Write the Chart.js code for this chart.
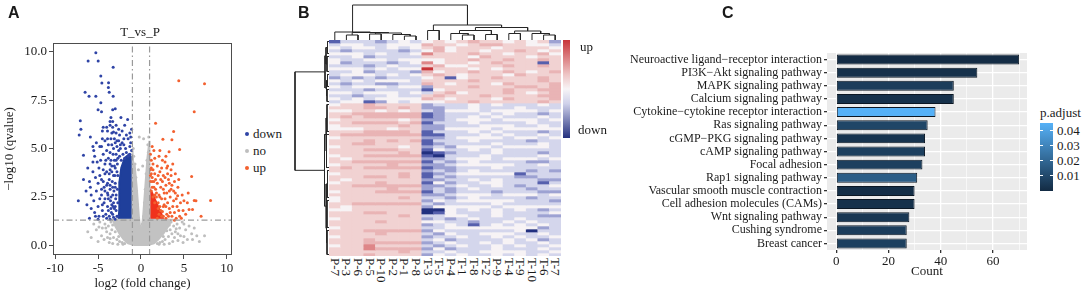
<!DOCTYPE html>
<html>
<head>
<meta charset="utf-8">
<script src="https://cdn.jsdelivr.net/npm/chart.js@4.4.0/dist/chart.umd.min.js"></script>
<style>
body { margin: 0; background: #fff; }
#wrap { position: relative; width: 1084px; height: 293px; overflow: hidden;
        font-family: 'Liberation Serif', 'Times New Roman', serif; color: #1a1a1a; }
#wrap canvas { position: absolute; }
.t { position: absolute; white-space: nowrap; line-height: 1; }
.panel { font-family: 'Liberation Sans', Arial, sans-serif; font-weight: bold; font-size: 16px; }
.dot { position: absolute; width: 4px; height: 4px; border-radius: 50%; }
.collab { position: absolute; writing-mode: vertical-rl; font-size: 13px; line-height: 12px; white-space: nowrap; }
</style>
</head>
<body>
<div id="wrap">
  <canvas id="volcano" width="240" height="293" style="left:0;top:0"></canvas>
  <canvas id="coltree" width="232" height="40" style="left:329px;top:0"></canvas>
  <canvas id="rowtree" width="39" height="216" style="left:290px;top:40px"></canvas>
  <canvas id="heat" width="232" height="216" style="left:329px;top:40px"></canvas>
  <canvas id="bars" width="432" height="240" style="left:600px;top:40px"></canvas>

  <div class="t panel" style="left:8px;top:5px">A</div>
  <div class="t panel" style="left:298px;top:5px">B</div>
  <div class="t panel" style="left:722px;top:5px">C</div>

  <div class="t" style="left:90px;width:100px;text-align:center;top:25px;font-size:13px">T_vs_P</div>
  <div id="volLegend"></div>

  <div style="position:absolute;left:563px;top:40px;width:7px;height:98px;background:linear-gradient(to bottom,#c8353a 0%,#eec4c4 35%,#f7f4f6 50%,#cfd1ea 65%,#24307e 100%)"></div>
  <div class="t" style="left:580px;top:40px;font-size:13px">up</div>
  <div class="t" style="left:578px;top:123px;font-size:13px">down</div>
  <div id="colLabels"></div>

  <div class="t" style="left:1040px;top:106px;font-size:13px">p.adjust</div>
  <div id="padjBar" style="position:absolute;left:1040px;top:123px;width:13px;height:68px;background:linear-gradient(to bottom,#56b1f7,#132b43)"></div>
  <div id="padjLabels"></div>
</div>

<script>
// ---------- panel A : volcano (x = log2 fold change, y = -log10 qvalue) ----------
var downPts = [
 -5.26,9.95, -6.16,9.52, -4.99,9.52, -3.24,9.2, -4.68,8.74, -4.56,8.39, -3.78,8.4, -3.8,8.15, -3.7,7.9,
 -6.51,7.91, -6.05,7.7, -5.26,7.7, -3.24,7.7, -4.68,7.36, -5.0,7.0, -4.6,6.9, -3.3,7.0, -3.0,7.05,
 -3.5,6.6, -3.6,6.4, -3.3,6.4, -2.34,6.6, -1.56,6.5, -7.07,6.44, -7.0,6.0, -7.2,5.7, -5.9,5.6,
 -6.7,4.65, -5.6,5.1, -5.5,4.9, -4.8,5.1, -4.6,5.1, -4.4,6.1, -4.0,6.1, -3.6,6.2, -3.3,6.1,
 -4.5,5.9, -3.9,5.9, -3.2,5.85, -2.9,5.8, -4.5,5.5, -3.9,5.5, -3.5,5.5, -6.0,3.3, -5.9,3.0,
 -5.4,4.6, -5.1,4.3, -4.9,4.0, -4.7,4.4, -4.4,4.7, -4.2,4.2, -4.0,4.9, -3.8,4.5, -3.6,4.8, -3.4,5.2,
 -3.2,5.0, -3.0,5.3, -2.8,5.1, -2.6,5.4, -2.4,5.0, -2.2,5.3, -2.0,5.2, -1.8,5.0, -1.5,5.5, -1.3,5.1,
 -5.6,3.8, -5.3,3.5, -5.0,3.2, -4.8,3.6, -4.6,2.9, -4.4,3.3, -4.2,3.7, -4.0,3.1, -3.9,2.7, -3.7,3.4,
 -3.6,3.9, -3.5,2.5, -3.4,4.1, -3.3,3.0, -3.2,2.2, -5.8,2.6, -5.5,2.3, -5.2,2.8, -5.0,2.0, -4.8,2.4,
 -4.5,1.8, -4.3,2.2, -4.1,1.6, -3.9,2.0, -3.7,1.5, -3.5,1.9, -3.3,1.6, -6.3,2.1, -5.4,1.7, -4.9,1.5,
 -4.6,2.6, -4.2,2.8, -3.8,2.4, -3.6,2.9, -3.4,2.1, -3.2,3.6, -3.1,4.4, -2.9,4.7, -2.7,4.5, -2.5,4.6,
 -2.3,4.4, -2.1,4.7, -1.9,4.5, -1.7,4.8, -1.5,4.6, -1.3,4.7, -1.1,4.9, -1.2,5.3, -2.6,6.0, -3.0,4.0,
 -2.8,3.8, -3.0,3.2, -2.9,2.6, -3.1,1.9, -2.8,1.5, -3.6,1.35, -4.0,1.4, -5.0,1.35, -6.7,3.4, -7.3,2.3,
 -2.7,1.5, -2.7,2.2, -2.75,2.9, -2.7,3.6, -2.75,4.2, -2.9,1.8, -2.95,2.4, -3.0,3.0, -3.05,3.6, -3.1,4.1,
 -3.2,1.45, -3.25,2.0, -3.3,2.6, -3.35,3.3, -3.4,3.8, -3.5,4.4, -3.45,1.7, -3.55,2.3, -3.6,3.1, -3.7,3.7,
 -3.8,1.8, -3.85,2.6, -3.9,3.2, -4.0,3.8, -4.1,4.4, -4.2,2.4, -4.3,3.0, -4.4,3.9, -4.5,2.1, -4.6,3.4,
 -2.6,4.9, -2.4,5.2, -2.0,5.5, -1.7,5.7, -2.8,5.4, -3.1,5.5, -1.3,5.8, -1.1,6.0, -2.2,5.9, -1.9,6.2,
 -1.2,5.6, -2.5,5.7, -2.9,6.2, -3.4,5.8, -3.8,5.2, -4.2,5.4, -5.2,5.3, -5.6,4.3, -6.2,4.0, -6.4,2.8,
 -5.8,1.9, -5.3,1.5, -6.0,1.4, -4.4,1.5, -3.0,1.35, -2.9,4.4, -3.25,4.7, -3.6,4.2, -3.0,2.0, -3.15,2.8
];
var upPts = [
 4.4,8.5, 7.4,8.35, 6.2,6.9, 1.7,6.3, 3.8,5.88, 2.55,5.48, 3.6,5.45, 4.5,4.95, 3.27,4.83, 2.1,4.6,
 1.5,4.9, 5.9,3.55, 8.1,2.32, 6.2,2.32, 6.4,2.3, 5.6,1.85, 6.0,1.85, 7.0,1.5, 4.27,2.56, 2.8,4.3,
 3.0,4.0, 3.5,3.9, 2.4,4.0, 1.9,4.1, 1.4,4.2, 1.2,4.4, 2.6,3.6, 3.2,3.4, 3.9,3.3, 4.3,3.0,
 2.0,3.6, 1.6,3.7, 1.3,3.5, 2.9,3.1, 3.5,2.9, 4.0,2.7, 4.6,2.2, 4.9,1.8, 4.5,1.5, 4.2,2.0,
 3.8,2.3, 3.4,2.5, 3.1,2.2, 2.7,2.7, 2.3,3.0, 1.9,3.2, 3.9,1.7, 3.6,1.5, 3.3,1.9, 3.0,1.6,
 2.6,2.0, 2.4,2.4, 2.2,2.0, 2.9,1.4, 3.7,2.0, 4.1,1.4, 5.2,1.6, 5.4,2.2, 4.8,2.6, 4.4,3.4,
 1.1,3.9, 1.3,3.0, 1.5,3.3, 1.7,2.9, 1.8,2.5, 2.1,2.6, 2.5,3.3, 3.1,3.7, 2.2,3.8, 1.2,2.8,
 1.4,2.5, 1.6,2.2, 2.0,2.2, 2.3,1.8, 2.6,1.5, 1.1,3.3, 1.2,3.7, 3.3,2.8, 2.8,2.4, 3.6,3.1,
 1.9,1.4, 2.1,1.6, 2.4,1.5, 2.0,1.9, 2.5,1.75, 2.7,2.1, 2.2,2.5, 2.9,2.0, 3.2,1.5, 3.4,1.7,
 3.0,2.7, 2.6,2.9, 1.8,2.7, 1.6,2.6, 1.5,3.0, 1.3,3.3, 1.1,3.6, 1.2,4.0, 1.4,3.9, 1.7,3.4,
 2.3,3.4, 2.8,3.5, 3.3,3.2, 3.8,2.8, 4.1,2.4, 4.4,1.8, 4.7,1.4, 3.5,3.6, 3.1,4.1, 2.5,4.4,
 1.6,4.5, 1.1,4.7, 1.3,5.1, 2.2,4.9, 4.0,3.7, 3.7,4.2, 2.9,4.6, 5.0,2.3, 5.5,2.7, 3.9,1.3
];
var noPts = [
 -4.8,1.2, -4.5,0.9, -4.2,1.1, -4.0,0.7, -3.8,1.0, -3.6,0.6, -3.4,0.8, -3.9,0.4, -3.2,0.4, -3.0,0.7,
 -2.8,0.3, -2.5,0.2, -2.2,0.15, -1.9,0.1, -4.6,0.5, -5.2,0.8, -5.5,1.1, -3.5,1.2, -2.9,1.15, -2.1,0.05,
 4.8,1.2, 4.5,0.9, 4.2,1.1, 4.0,0.7, 3.8,1.0, 3.6,0.6, 3.4,0.8, 3.9,0.4, 3.2,0.45, 3.0,0.75,
 2.8,0.3, 2.5,0.2, 2.2,0.15, 1.9,0.1, 4.6,0.5, 5.2,0.8, 5.6,1.0, 5.9,0.6, 6.2,0.9, 5.4,0.3,
 3.5,1.2, 2.9,1.2, 2.1,0.05, 4.3,0.25, 5.0,0.45, 6.5,0.5, 7.4,0.5, 6.8,0.2, -5.8,0.4, -6.2,0.7,
 -0.9,5.0, -0.85,4.6, -0.7,4.2, -0.9,3.8, -0.6,3.5, -0.8,3.1, -0.5,2.8, -0.7,2.5, -0.4,2.1, -0.6,1.8,
 0.9,5.6, 0.8,5.2, 0.85,4.8, 0.7,4.4, 0.9,4.0, 0.6,3.7, 0.8,3.3, 0.5,2.9, 0.7,2.6, 0.4,2.2,
 0.3,5.5, -0.2,5.6, 0.2,4.1, -0.3,3.9, 0.5,1.8, 0.3,1.5, -0.3,1.4, 0.15,1.1, -0.15,1.0,
 -4.3,0.3, -3.7,0.15, -3.3,0.1, -2.7,0.05, -5.0,0.2, -4.9,0.95, -4.1,0.9, -3.3,1.05, -2.6,0.45, -3.6,0.35,
 4.3,0.6, 3.7,0.2, 3.3,0.1, 2.7,0.05, 5.0,1.1, 4.9,0.15, 4.1,0.85, 3.3,1.05, 2.6,0.45, 6.0,0.3
];
// outlines of the areas where the points are packed solid
var downCore = [-1.02,1.32, -1.02,4.5, -1.4,4.7, -1.9,4.5, -2.3,4.0, -2.5,3.3, -2.55,2.5, -2.5,1.9, -2.6,1.32];
var upCore = [1.02,1.32, 1.02,2.9, 1.3,2.7, 1.6,2.4, 2.0,2.0, 2.4,1.6, 2.6,1.32];
var noCore = [-0.98,4.9, -0.98,1.32, -3.3,1.32, -3.0,1.0, -2.5,0.6, -2.0,0.3, -1.5,0.1, -0.8,0.02,
              0.8,0.02, 1.5,0.1, 2.0,0.3, 2.6,0.6, 3.2,1.0, 3.6,1.32, 0.98,1.32, 0.98,5.4,
              0.75,4.5, 0.5,3.0, 0.25,1.5, 0.08,0.8, -0.08,0.8, -0.25,1.5, -0.5,3.0, -0.75,4.2];
var fcCut = [-1, 1];
var qCut = 1.3;
var volGroups = ['down', 'no', 'up'];

// ---------- panel B : heatmap ----------
var sampleNames = ['P-7','P-3','P-6','P-5','P-10','P-2','P-1','P-8','T-3','T-5',
                   'P-4','T-1','T-8','T-2','P-9','T-4','T-9','T-10','T-6','T-7'];
// one string per gene row, one digit per sample: 0 = deep blue (down), 4 = white, 8 = deep red (up)
var heatRows = [
 "13332343454565545452","34433444655456655443","43443434564555455554","32333323464554556545",
 "44434334755565545564","33423333555546555455","43344344445565565565","42333234745545655515",
 "33323433564455565565","44434344855545455555","33423332645565565456","34443434565455546555",
 "23232333451455655565","43434443555565555565","32332233654555465556","43444344255565556656",
 "33323333145555565566","44344434356455565456","33233433565556555566","43434444654555465556",
 "34412434445565555565",
 "45565555233343433343","55566565223343334333","44554545324443444434","55666666123334343323",
 "56566666123343433343","45555545223444344434","55666656133343333433","45555565223334443343",
 "44455455224444344444","55566665133343433323","56666666113334343343","45555555223444434434",
 "55565656133343333233","55665555123333433343","45555545232444344443","55566655143343433333",
 "55555565012333433323","45566666103334333343","54555555223444344434","55666666132343333223",
 "45555655223444443343","56566666122333433333","55555555232343333232","45555565123444441333",
 "55566565132333332233","54555555223343433322","45556555142334433313","55666666223433432334",
 "55555655232343333233","45556666132333233322","55555555223444344434","45555565332343333233",
 "45555555243444443332","55666666323333433333","54555555244444344444","44555555004343434323",
 "55566555014333433334","55555565334433433322","45555555232343334333","55556555443323343433",
 "55555555234313434343","45555555334444444423","55566666243333334033","55556555324334443343",
 "45555555233433434334","55565555342333343423","55566666234334343343","45575555323433434334",
 "55576666242333433343","55555565334334444334","55565555243433434343"
];
// column tree, hclust style: negative = sample (1-based), positive = earlier merge; last = height
var colMerges = [
 [-2,-3,5], [-4,-5,6], [-7,-8,4], [-6,3,5.5], [2,4,7], [1,5,7.5], [-1,6,8],
 [-9,-10,9.5], [-12,-13,5], [-11,9,6.5], [-14,-15,5.5], [10,11,9.5], [-16,-17,6.5],
 [-19,-20,5], [-18,14,6.5], [13,15,9], [12,16,12.5], [8,17,15], [7,18,35]
];
// row tree: blocks of gene rows [first, last, height], then merges of blocks
var rowGroups = [[0,4,1.5],[5,10,2],[11,15,1.5],[16,20,2],[21,30,2],[31,42,2.5],[43,52,1.5],[53,62,2],[63,71,2]];
var rowMerges = [[-1,-2,3], [-3,-4,2.5], [1,2,4], [-8,-9,2.5], [-7,4,3], [-5,-6,3], [6,5,4.5], [3,7,34]];

// ---------- panel C : KEGG enrichment ----------
var pathways = ['Neuroactive ligand\u2212receptor interaction','PI3K\u2212Akt signaling pathway','MAPK signaling pathway',
  'Calcium signaling pathway','Cytokine\u2212cytokine receptor interaction','Ras signaling pathway',
  'cGMP\u2212PKG signaling pathway','cAMP signaling pathway','Focal adhesion','Rap1 signaling pathway',
  'Vascular smooth muscle contraction','Cell adhesion molecules (CAMs)','Wnt signaling pathway',
  'Cushing syndrome','Breast cancer'];
var pathCount = [70, 54, 45, 45, 38, 35, 34, 34, 33, 31, 30, 30, 28, 27, 27];
var pathPadj = [0.0005, 0.002, 0.006, 0.002, 0.0447, 0.009, 0.003, 0.007, 0.007, 0.017, 0.001, 0.002, 0.004, 0.006, 0.007];
var padjTicks = [0.04, 0.03, 0.02, 0.01];
var padjRange = [0, 0.0447];

// ---------- helpers ----------
Chart.defaults.font.family = "'Liberation Serif', 'Times New Roman', serif";
Chart.defaults.color = '#1a1a1a';
Chart.defaults.animation = false;
Chart.defaults.responsive = false;
Chart.defaults.plugins.legend.display = false;
Chart.defaults.plugins.tooltip.enabled = false;

function pairs(a) {
  var out = [];
  for (var i = 0; i < a.length; i += 2) out.push({x: a[i], y: a[i + 1]});
  return out;
}

var frame = {
  id: 'frame',
  afterDraw: function (c) {
    var a = c.chartArea, ctx = c.ctx;
    ctx.save();
    ctx.strokeStyle = '#4d4d4d';
    ctx.lineWidth = 1;
    ctx.strokeRect(a.left + 0.5, a.top + 0.5, a.right - a.left - 1, a.bottom - a.top - 1);
    ctx.restore();
  }
};

var ggPanel = {
  id: 'ggPanel',
  beforeDraw: function (c) {
    var a = c.chartArea, ctx = c.ctx;
    ctx.save();
    ctx.fillStyle = '#ebebeb';
    ctx.fillRect(a.left, a.top, a.right - a.left, a.bottom - a.top);
    ctx.restore();
  }
};

// ---------- A ----------
var volColors = {down: '#2f44a6', no: '#bebebe', up: '#f3602f'};
var yLo = -0.5, yHi = 10.45;
function cutLine(pts) {
  return {data: pts, showLine: true, borderColor: '#9a9a9a', borderWidth: 1.2,
          borderDash: [6, 3, 1.5, 3], pointRadius: 0, fill: false, order: 0};
}
function core(pts, col) {
  return {data: pairs(pts), showLine: true, fill: 'shape', backgroundColor: col,
          borderColor: col, borderWidth: 2, pointRadius: 0, order: 3};
}
function cloud(pts, col, ord) {
  return {data: pairs(pts), backgroundColor: col, borderWidth: 0, pointRadius: 1.5, order: ord};
}
new Chart(document.getElementById('volcano'), {
  type: 'scatter',
  data: {
    datasets: [
      core(noCore, '#c2c2c2'),
      cloud(noPts, volColors.no, 4),
      core(downCore, '#1f3f9b'),
      core(upCore, '#f0321c'),
      cloud(downPts, volColors.down, 2),
      cloud(upPts, volColors.up, 2),
      cutLine([{x: fcCut[0], y: yLo}, {x: fcCut[0], y: yHi}]),
      cutLine([{x: fcCut[1], y: yLo}, {x: fcCut[1], y: yHi}]),
      cutLine([{x: -10.25, y: qCut}, {x: 10.6, y: qCut}])
    ]
  },
  options: {
    layout: {padding: {top: 43, right: 8}},
    scales: {
      x: {min: -10.25, max: 10.6,
          ticks: {stepSize: 5, includeBounds: false, font: {size: 13}, padding: 2, color: '#1a1a1a'},
          grid: {drawOnChartArea: false, tickLength: 4, color: '#4d4d4d'},
          border: {display: false},
          title: {display: true, text: 'log2 (fold change)', font: {size: 13}, padding: {top: 0, bottom: 2}},
          afterFit: function (s) { s.height = 38; }},
      y: {min: yLo, max: yHi,
          ticks: {stepSize: 2.5, includeBounds: false, font: {size: 13}, padding: 2, color: '#1a1a1a',
                  callback: function (v) { return v.toFixed(1); }},
          grid: {drawOnChartArea: false, tickLength: 4, color: '#4d4d4d'},
          border: {display: false},
          title: {display: true, text: '\u2212log10 (qvalue)', font: {size: 13}, padding: {top: 2, bottom: 0}},
          afterFit: function (s) { s.width = 53; }}
    }
  },
  plugins: [frame]
});

var legHtml = '';
volGroups.forEach(function (g, i) {
  var y = 127 + i * 17;
  legHtml += '<div class="dot" style="left:245px;top:' + (y + 5) + 'px;background:' + volColors[g] + '"></div>' +
             '<div class="t" style="left:253px;top:' + y + 'px;font-size:13px">' + g + '</div>';
});
document.getElementById('volLegend').innerHTML = legHtml;

// ---------- B ----------
var heatColors = ['#22307f', '#5660ad', '#9da2d2', '#d4d6ec', '#f7f3f5', '#f1d2d2', '#e9b4b5', '#de8688', '#c8353a'];
var heat = new Chart(document.getElementById('heat'), {
  type: 'bar',
  data: {
    labels: sampleNames,
    datasets: heatRows.map(function (row) {
      return {
        data: sampleNames.map(function () { return 1; }),
        backgroundColor: row.split('').map(function (ch) { return heatColors[+ch]; }),
        borderWidth: 0, barPercentage: 1, categoryPercentage: 1
      };
    })
  },
  options: {
    scales: {
      x: {display: false, stacked: true},
      y: {display: false, stacked: true, reverse: true, min: 0, max: heatRows.length}
    }
  }
});

var hx = heat.scales.x, labHtml = '';
sampleNames.forEach(function (n, i) {
  labHtml += '<div class="collab" style="left:' + (329 + hx.getPixelForValue(i) - 6) + 'px;top:258px">' + n + '</div>';
});
document.getElementById('colLabels').innerHTML = labHtml;

function treeSegments(merges, leafPos, leafH) {
  var pos = [], hgt = [], segs = [];
  function node(k) {
    return k < 0 ? [leafPos[-k - 1], leafH ? leafH[-k - 1] : 0] : [pos[k - 1], hgt[k - 1]];
  }
  merges.forEach(function (m) {
    var a = node(m[0]), b = node(m[1]);
    segs.push([[a[0], a[1]], [a[0], m[2]], [b[0], m[2]], [b[0], b[1]]]);
    pos.push((a[0] + b[0]) / 2);
    hgt.push(m[2]);
  });
  return segs;
}
function treeSet(seg, flip) {
  return {
    data: seg.map(function (p) { return flip ? {x: p[1], y: p[0]} : {x: p[0], y: p[1]}; }),
    showLine: true, borderColor: '#262626', borderWidth: 1, pointRadius: 0, fill: false, clip: false
  };
}

var colSegs = treeSegments(colMerges, sampleNames.map(function (n, i) { return i; }));
new Chart(document.getElementById('coltree'), {
  type: 'scatter',
  data: {datasets: colSegs.map(function (s) { return treeSet(s, false); })},
  options: {scales: {x: {display: false, min: -0.5, max: sampleNames.length - 0.5},
                     y: {display: false, min: 0, max: 40}}}
});

var groupSegs = rowGroups.map(function (g) { return [[g[0], 0], [g[0], g[2]], [g[1], g[2]], [g[1], 0]]; });
var rowSegs = treeSegments(rowMerges,
  rowGroups.map(function (g) { return (g[0] + g[1]) / 2; }),
  rowGroups.map(function (g) { return g[2]; }));
new Chart(document.getElementById('rowtree'), {
  type: 'scatter',
  data: {datasets: groupSegs.concat(rowSegs).map(function (s) { return treeSet(s, true); })},
  options: {scales: {x: {display: false, min: 0, max: 39, reverse: true},
                     y: {display: false, min: -0.5, max: heatRows.length - 0.5, reverse: true}}}
});

// ---------- C ----------
var lowCol = [19, 43, 67], highCol = [86, 177, 247];
function padjColor(p) {
  var t = (p - padjRange[0]) / (padjRange[1] - padjRange[0]);
  var c = lowCol.map(function (v, i) { return Math.round(v + (highCol[i] - v) * t); });
  return 'rgb(' + c.join(',') + ')';
}
new Chart(document.getElementById('bars'), {
  type: 'bar',
  data: {
    labels: pathways,
    datasets: [{data: pathCount, backgroundColor: pathPadj.map(padjColor), borderColor: '#0b1724',
                borderWidth: 1, borderSkipped: false, barPercentage: 0.76, categoryPercentage: 1}]
  },
  options: {
    indexAxis: 'y',
    layout: {padding: {top: 13, right: 5}},
    scales: {
      x: {min: -3.5, max: 73,
          ticks: {stepSize: 10, includeBounds: false, font: {size: 13}, padding: 1, color: '#1a1a1a', autoSkip: false,
                  maxRotation: 0, callback: function (v) { return v % 20 === 0 ? v : ''; }},
          grid: {color: '#ffffff', tickLength: 3,
                 lineWidth: function (c) { return c.tick && c.tick.value % 20 === 0 ? 1.3 : 0.6; },
                 tickColor: function (c) { return c.tick && c.tick.value % 20 === 0 ? '#333' : 'rgba(0,0,0,0)'; }},
          border: {display: false},
          title: {display: true, text: 'Count', font: {size: 13}, padding: {top: 0, bottom: 1}},
          afterFit: function (s) { s.height = 30; }},
      y: {ticks: {font: {size: 12}, padding: 2, color: '#1a1a1a', autoSkip: false},
          grid: {color: '#ffffff', lineWidth: 1.3, offset: false, tickLength: 3, tickColor: '#333'},
          border: {display: false},
          afterFit: function (s) { s.width = 227; }}
    }
  },
  plugins: [ggPanel]
});

var barTop = 123, barH = 68, pHtml = '';
padjTicks.forEach(function (v) {
  var y = barTop + (padjRange[1] - v) / (padjRange[1] - padjRange[0]) * barH;
  pHtml += '<div style="position:absolute;left:1040px;top:' + (y - 0.5) + 'px;width:3px;height:1px;background:#fff"></div>' +
           '<div style="position:absolute;left:1050px;top:' + (y - 0.5) + 'px;width:3px;height:1px;background:#fff"></div>' +
           '<div class="t" style="left:1057px;top:' + (y - 6.5) + 'px;font-size:13px">' + v.toFixed(2) + '</div>';
});
document.getElementById('padjLabels').innerHTML = pHtml;
</script>
</body>
</html>
